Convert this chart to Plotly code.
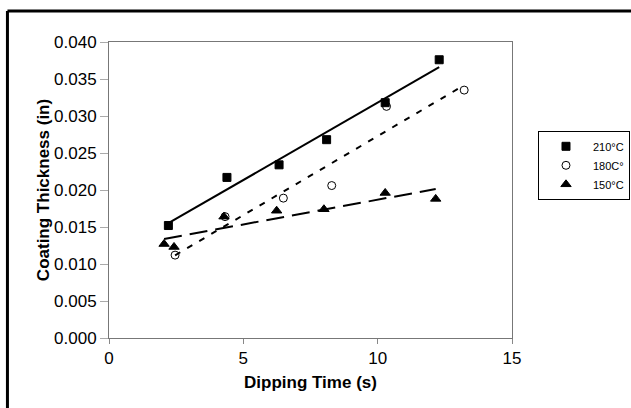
import numpy as np
import plotly.graph_objects as go

# Data
t210 = [2.21, 4.39, 6.33, 8.10, 10.28, 12.29]
c210 = [0.0152, 0.0217, 0.0234, 0.0268, 0.0318, 0.0376]
t180 = [2.46, 4.32, 6.49, 8.29, 10.33, 13.22]
c180 = [0.0112, 0.0164, 0.0189, 0.0206, 0.0313, 0.0335]
t150 = [2.05, 2.42, 4.28, 6.24, 8.00, 10.28, 12.16]
c150 = [0.0127, 0.0123, 0.0164, 0.0172, 0.0174, 0.0196, 0.0188]
names = ["210°C", "180C°", "150°C"]
y_ticks = [0.000, 0.005, 0.010, 0.015, 0.020, 0.025, 0.030, 0.035, 0.040]
x_ticks = [0, 5, 10, 15]

FONT = "Liberation Sans, Arial, sans-serif"
fig = go.Figure()

series = [
    (t210, c210, names[0], "square", 8, "solid"),
    (t180, c180, names[1], "circle-open", 8, "6px,8px"),
    (t150, c150, names[2], "triangle-up", 9, "18px,8px"),
]

for xs, ys, nm, sym, sz, dash in series:
    xs_a = np.array(xs)
    ys_a = np.array(ys)
    m, b = np.polyfit(xs_a, ys_a, 1)
    xl = np.array([xs_a.min(), xs_a.max()])
    fig.add_trace(go.Scatter(x=xl, y=m * xl + b, mode="lines",
                             line=dict(color="black", width=2, dash=dash),
                             showlegend=False, hoverinfo="skip"))

for i, (xs, ys, nm, sym, sz, dash) in enumerate(series):
    fig.add_trace(go.Scatter(x=xs, y=ys, mode="markers", name=nm,
                             marker=dict(symbol=sym, size=sz, color="black",
                                         line=dict(color="black", width=1))))

fig.update_layout(
    width=631, height=408,
    margin=dict(l=109, r=119, t=42, b=70, autoexpand=False),
    paper_bgcolor="white", plot_bgcolor="white",
    font=dict(family=FONT, color="black", size=17),
    legend=dict(x=1.0645, y=0.70, xanchor="left", yanchor="top",
                bordercolor="black", borderwidth=1, bgcolor="white",
                font=dict(size=11, family=FONT, color="black"),
                itemwidth=44),
    xaxis=dict(range=[0, 15], tickvals=x_ticks, ticks="outside", ticklen=5,
               tickcolor="#888", showgrid=False, zeroline=False,
               showline=True, linecolor="#777", linewidth=1, mirror=True,
               tickfont=dict(size=17),
               title=dict(text="<b>Dipping Time (s)</b>", font=dict(size=17), standoff=8)),
    yaxis=dict(range=[0, 0.040], tickvals=y_ticks, tickformat=".3f",
               ticks="outside", ticklen=8, tickcolor="#aaa", showgrid=False,
               zeroline=False, showline=True, linecolor="#777", linewidth=1,
               mirror=True, tickfont=dict(size=17),
               title=dict(text="<b>Coating Thickness (in)</b>", font=dict(size=17), standoff=0)),
    shapes=[
        dict(type="line", xref="paper", yref="paper",
             x0=-0.252, x1=1.5, y0=1.105, y1=1.105,
             line=dict(color="black", width=3)),
        dict(type="line", xref="paper", yref="paper",
             x0=-0.252, x1=-0.252, y0=-0.5, y1=1.105,
             line=dict(color="black", width=3)),
    ],
)

fig.write_html(
    "out.html",
    config={"displayModeBar": False},
    post_script="document.body.style.margin='0';document.body.style.overflow='hidden';",
)
